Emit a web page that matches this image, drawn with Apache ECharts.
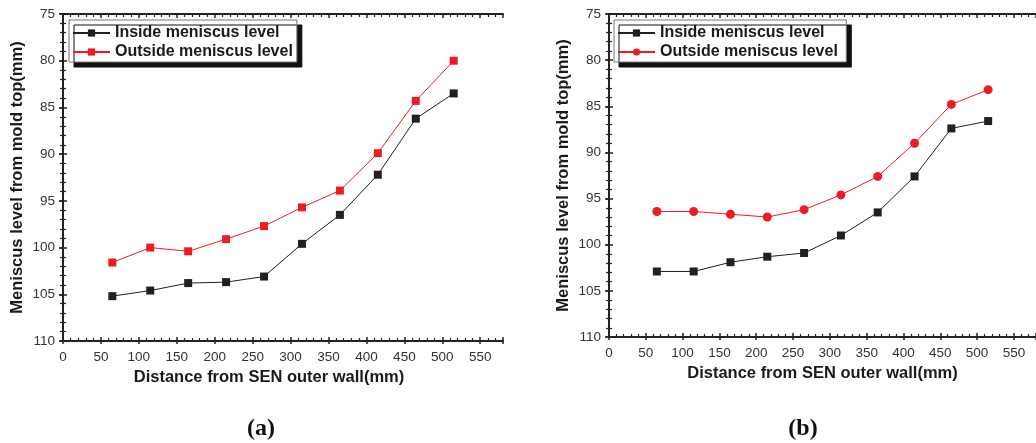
<!DOCTYPE html>
<html>
<head>
<meta charset="utf-8">
<script src="https://cdn.jsdelivr.net/npm/echarts@6/dist/echarts.min.js"></script>
<style>
  html, body { margin: 0; padding: 0; background: #fff; }
  #chart { width: 1036px; height: 443px; }
</style>
</head>
<body>
<div id="chart"></div>
<script>
// distance from SEN outer wall (mm)
var distance = [65, 115, 165, 215, 265, 315, 365, 415, 465, 515];
// (a) meniscus level from mold top (mm)
var insideA = [105.2, 104.6, 103.8, 103.7, 103.1, 99.6, 96.5, 92.2, 86.2, 83.5];
var outsideA = [101.6, 100.0, 100.4, 99.1, 97.7, 95.7, 93.9, 89.9, 84.3, 80.0];
// (b)
var insideB = [102.9, 102.9, 101.9, 101.3, 100.9, 99.0, 96.5, 92.6, 87.4, 86.6];
var outsideB = [96.4, 96.4, 96.7, 97.0, 96.2, 94.6, 92.6, 89.0, 84.8, 83.2];

var nameIn = 'Inside meniscus level';
var nameOut = 'Outside meniscus level';
var FONT = '"Liberation Sans", Arial, sans-serif';
var AXIS = '#222';
var BLACK = '#231f20';
var RED = '#ed1c24';

function pairs(ys) {
    return distance.map(function (x, i) { return [x, ys[i]]; });
}

var rects = [
    { left: 63, top: 14, width: 440, height: 327 },
    { left: 609, top: 14, width: 434, height: 323 }
];

function xAxes(grid, overlay) {
    var base = {
        type: 'value', min: 0, max: 580, interval: 50,
        splitLine: { show: false }
    };
    return [
        Object.assign({}, base, {
            gridIndex: grid, position: 'bottom',
            name: 'Distance from SEN outer wall(mm)',
            nameLocation: 'middle', nameGap: 27,
            nameTextStyle: {
                fontFamily: FONT, fontSize: 16.5, fontWeight: 'bold', color: '#1a1a1a',
                padding: grid === 0 ? [0, 28, 0, 0] : 0
            },
            axisLine: { lineStyle: { color: AXIS, width: 2 } },
            axisTick: { inside: true, length: 4, lineStyle: { color: AXIS, width: 1.5 } },
            minorTick: { show: true, splitNumber: 5, length: 3, lineStyle: { color: AXIS, width: 1.2 } },
            axisLabel: { showMaxLabel: false, margin: 9, fontFamily: FONT, fontSize: 13.5, color: '#333' }
        }),
        Object.assign({}, base, {
            gridIndex: grid, position: 'top',
            axisLine: { lineStyle: { color: AXIS, width: 2 } },
            axisTick: { inside: true, length: 4, lineStyle: { color: AXIS, width: 1.5 } },
            minorTick: { show: true, splitNumber: 5, length: 3, lineStyle: { color: AXIS, width: 1.2 } },
            axisLabel: { show: false }
        }),
        Object.assign({}, base, {
            gridIndex: overlay, position: 'bottom',
            axisLine: { show: false },
            axisTick: { inside: false, length: 3, lineStyle: { color: AXIS, width: 1.5 } },
            axisLabel: { show: false }
        })
    ];
}

function yAxes(grid, overlay) {
    var base = {
        type: 'value', min: 75, max: 110, interval: 5, inverse: true,
        splitLine: { show: false }
    };
    return [
        Object.assign({}, base, {
            gridIndex: grid, position: 'left',
            name: 'Meniscus level from mold top(mm)',
            nameLocation: 'middle', nameGap: 37,
            nameTextStyle: { fontFamily: FONT, fontSize: 16.5, fontWeight: 'bold', color: '#1a1a1a' },
            axisLine: { lineStyle: { color: AXIS, width: 2 } },
            axisTick: { inside: true, length: 4, lineStyle: { color: AXIS, width: 1.5 } },
            minorTick: { show: true, splitNumber: 5, length: 3, lineStyle: { color: AXIS, width: 1.2 } },
            axisLabel: { margin: 8, fontFamily: FONT, fontSize: 13.5, color: '#333' }
        }),
        Object.assign({}, base, {
            gridIndex: grid, position: 'right',
            axisLine: { lineStyle: { color: AXIS, width: 2 } },
            axisTick: { inside: true, length: 4, lineStyle: { color: AXIS, width: 1.5 } },
            minorTick: { show: true, splitNumber: 5, length: 3, lineStyle: { color: AXIS, width: 1.2 } },
            axisLabel: { show: false }
        }),
        Object.assign({}, base, {
            gridIndex: overlay, position: 'left',
            axisLine: { show: false },
            axisTick: { inside: false, length: 3, lineStyle: { color: AXIS, width: 1.5 } },
            axisLabel: { show: false }
        })
    ];
}

function legend(left, names) {
    return {
        left: left, top: 20, orient: 'vertical',
        data: names, selectedMode: false,
        backgroundColor: '#fff', borderColor: '#777', borderWidth: 1,
        padding: [5, 4, 2, 3],
        itemWidth: 37, itemHeight: 9, itemGap: 3,
        textStyle: { fontFamily: FONT, fontSize: 16, fontWeight: 'bold', color: '#1a1a1a', lineHeight: 16 },
        shadowColor: '#111', shadowBlur: 0, shadowOffsetX: 5, shadowOffsetY: 5
    };
}

function line(name, ys, xi, color, symbol, size) {
    return {
        name: name, type: 'line', xAxisIndex: xi, yAxisIndex: xi,
        data: pairs(ys), symbol: symbol, symbolSize: size,
        lineStyle: { color: color, width: 1 },
        itemStyle: { color: color },
        emphasis: { disabled: true }
    };
}

var chart = echarts.init(document.getElementById('chart'));
chart.setOption({
    animation: false,
    title: [
        { text: '(a)', left: 256, top: 412, textAlign: 'center',
          textStyle: { fontFamily: '"Liberation Serif", serif', fontSize: 24, fontWeight: 'bold', color: '#111' } },
        { text: '(b)', left: 798, top: 412, textAlign: 'center',
          textStyle: { fontFamily: '"Liberation Serif", serif', fontSize: 24, fontWeight: 'bold', color: '#111' } }
    ],
    grid: [rects[0], rects[1], rects[0], rects[1]],
    xAxis: xAxes(0, 2).concat(xAxes(1, 3)),
    yAxis: yAxes(0, 2).concat(yAxes(1, 3)),
    legend: [
        legend(69, [nameIn, nameOut]),
        legend(614, [nameIn + ' ', nameOut + ' '])
    ],
    series: [
        line(nameIn, insideA, 0, BLACK, 'rect', 8),
        line(nameOut, outsideA, 0, RED, 'rect', 8),
        line(nameIn + ' ', insideB, 3, BLACK, 'rect', 8),
        line(nameOut + ' ', outsideB, 3, RED, 'circle', 9)
    ]
});
</script>
</body>
</html>
